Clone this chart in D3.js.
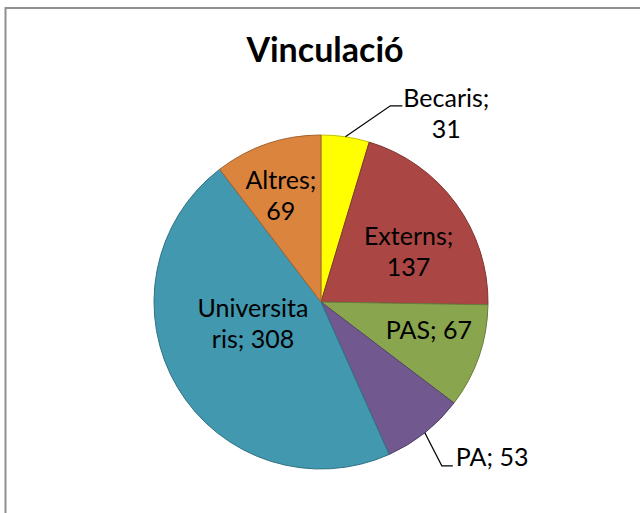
<!DOCTYPE html>
<html>
<head>
<meta charset="utf-8">
<script src="https://cdn.jsdelivr.net/npm/d3@7"></script>
<style>
  html, body { margin: 0; padding: 0; background: #fff; }
  svg { display: block; font-family: Lato, "Noto Sans", sans-serif; }
</style>
</head>
<body>
<div class="chart"></div>
<script>
'use strict';

const width = 640;
const height = 513;

// data
const categories = ['Becaris', 'Externs', 'PAS', 'PA', 'Universitaris', 'Altres'];
const values = [31, 137, 67, 53, 308, 69];
const colors = ['#FFFF00', '#AA4643', '#89A54E', '#71588F', '#4198AF', '#DB843D'];
// label text, broken the way the picture wraps it
const labelLines = [
    ['Becaris;', '31'],
    ['Externs;', '137'],
    ['PAS; 67'],
    ['PA; 53'],
    ['Universita', 'ris; 308'],
    ['Altres;', '69']
];

const cx = 321;
const cy = 302;
const radius = 167;
const lineHeight = 30.5;
const fontSize = 25;

// per-slice label placement: inside labels nudged from the centroid,
// outside labels get a leader line (elbow offset from the slice edge)
const labelLayout = [
    {outside: true, elbow: [45, -31], tail: 12, textDx: 3, textDy: -7, anchor: 'middle', lineOffset: 41},
    {nudge: [4, 11]},
    {nudge: [10, -5]},
    {outside: true, elbow: [17, 33], tail: 11, textDx: 3, textDy: -8, anchor: 'start'},
    {nudge: [21, -31]},
    {nudge: [-7, -8]}
];

const data = categories.map((c, i) => ({name: c, value: values[i], color: colors[i], lines: labelLines[i], layout: labelLayout[i]}));

const svg = d3.select('.chart').append('svg')
    .attr('width', width)
    .attr('height', height);

// chart area frame (runs off the window to the right and bottom)
svg.append('rect')
    .attr('x', 5.5)
    .attr('y', 8)
    .attr('width', 700)
    .attr('height', 600)
    .attr('fill', '#fff')
    .attr('stroke', '#8f8f8f')
    .attr('stroke-width', 2);

svg.append('text')
    .attr('x', 325)
    .attr('y', 62)
    .attr('text-anchor', 'middle')
    .attr('font-weight', 'bold')
    .attr('font-size', 34)
    .attr('fill', '#000')
    .text('Vinculació');

const pie = d3.pie()
    .value(d => d.value)
    .sort(null);

const arcs = pie(data);

const arc = d3.arc()
    .innerRadius(0)
    .outerRadius(radius);

const labelArc = d3.arc()
    .innerRadius(radius * 0.62)
    .outerRadius(radius * 0.62);

const edgeArc = d3.arc()
    .innerRadius(radius)
    .outerRadius(radius);

const g = svg.append('g')
    .attr('transform', `translate(${cx},${cy})`);

g.selectAll('.slice')
    .data(arcs)
    .enter().append('path')
    .attr('class', 'slice')
    .attr('d', arc)
    .attr('fill', d => d.data.color)
    .attr('stroke', d => d3.color(d.data.color).darker(0.8))
    .attr('stroke-width', 1)
    .attr('stroke-linejoin', 'round');

arcs.forEach(d => {
    const lay = d.data.layout;
    const lines = d.data.lines;
    if (lay.outside) {
        const p0 = edgeArc.centroid(d);
        const p1 = [p0[0] + lay.elbow[0], p0[1] + lay.elbow[1]];
        const p2 = [p1[0] + lay.tail, p1[1]];
        g.append('polyline')
            .attr('points', [p0, p1, p2].map(p => p.join(',')).join(' '))
            .attr('fill', 'none')
            .attr('stroke', '#000')
            .attr('stroke-width', 1.2);
        const tx = p2[0] + lay.textDx + (lay.anchor === 'middle' ? lay.lineOffset : 0);
        const t = g.append('text')
            .attr('text-anchor', lay.anchor)
            .attr('font-size', fontSize)
            .attr('fill', '#000');
        lines.forEach((l, i) => {
            t.append('tspan')
                .attr('x', tx)
                .attr('y', p2[1] + lay.textDy + 8.5 + i * lineHeight)
                .text(l);
        });
    } else {
        const c = labelArc.centroid(d);
        const x = c[0] + lay.nudge[0];
        const yTop = c[1] + lay.nudge[1] - (lines.length - 1) * lineHeight / 2 + 8.5;
        const t = g.append('text')
            .attr('text-anchor', 'middle')
            .attr('font-size', fontSize)
            .attr('fill', '#000');
        lines.forEach((l, i) => {
            t.append('tspan')
                .attr('x', x)
                .attr('y', yTop + i * lineHeight)
                .text(l);
        });
    }
});
</script>
</body>
</html>
